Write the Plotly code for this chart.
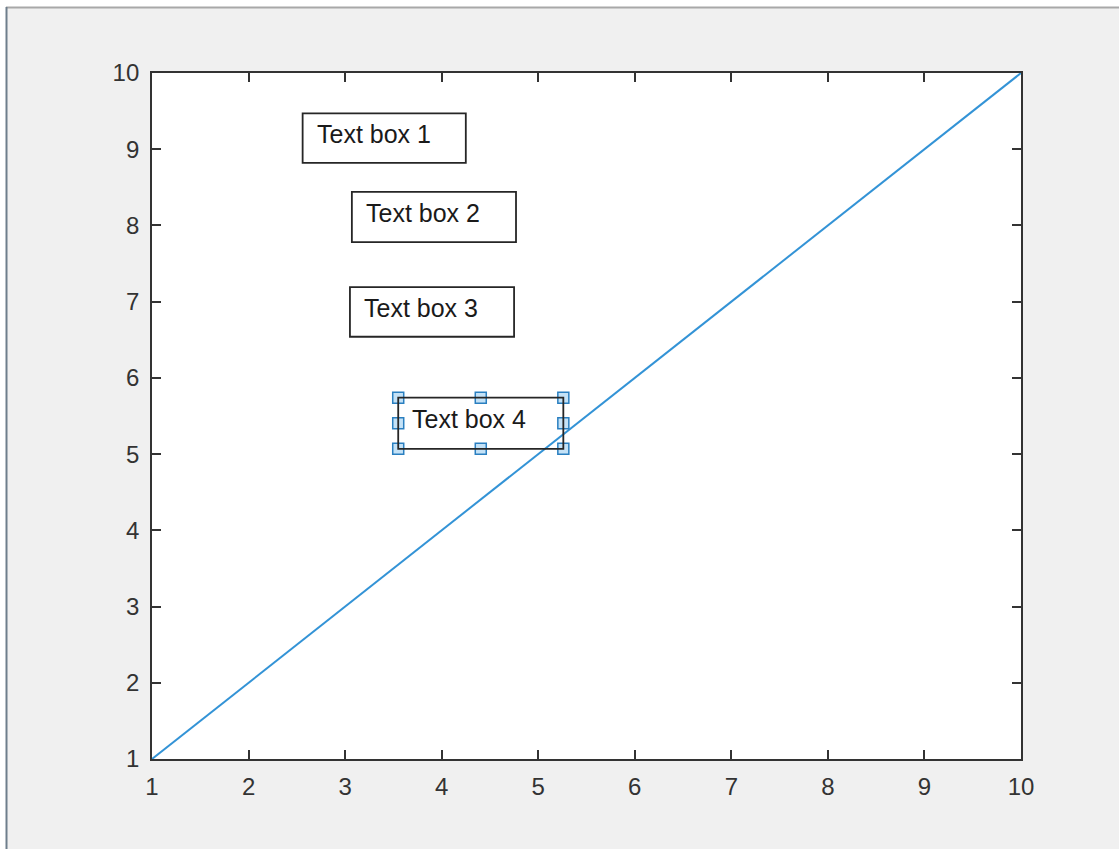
import plotly.graph_objects as go

# Data
line_x = [1, 2, 3, 4, 5, 6, 7, 8, 9, 10]
line_y = [1, 2, 3, 4, 5, 6, 7, 8, 9, 10]

box_labels = ["Text box 1", "Text box 2", "Text box 3", "Text box 4"]
box_x0 = [2.56, 3.07, 3.05, 3.55]
box_x1 = [4.25, 4.77, 4.75, 5.26]
box_y0 = [8.82, 7.78, 6.54, 5.07]
box_y1 = [9.47, 8.44, 7.19, 5.74]
selected_box = 3

tick_vals = [1, 2, 3, 4, 5, 6, 7, 8, 9, 10]
tick_text = [str(v) for v in tick_vals]

W, H = 1119, 849
L, R, T, B = 152, 1021, 73, 759


def px(x):
    return (x - L) / (R - L)


def py(y):
    return (B - y) / (B - T)


fig = go.Figure()
fig.add_trace(go.Scatter(x=line_x, y=line_y, mode="lines",
                         line=dict(color="#3393d6", width=2),
                         showlegend=False, hoverinfo="skip"))

shapes = []
annotations = []
for lab, x0, x1, y0, y1 in zip(box_labels, box_x0, box_x1, box_y0, box_y1):
    shapes.append(dict(type="rect", xref="x", yref="y", x0=x0, x1=x1, y0=y0, y1=y1,
                       line=dict(color="#262626", width=1.8), fillcolor="rgba(0,0,0,0)",
                       layer="above"))
    annotations.append(dict(x=x0, y=y1, xref="x", yref="y", text=lab, showarrow=False,
                            xanchor="left", yanchor="middle", xshift=12, yshift=-21,
                            font=dict(family="Liberation Sans, Arial", size=25, color="#1a1a1a")))

# selection handles on selected box
sx0, sx1 = box_x0[selected_box], box_x1[selected_box]
sy0, sy1 = box_y0[selected_box], box_y1[selected_box]
sxm, sym = (sx0 + sx1) / 2, (sy0 + sy1) / 2
hx = [sx0, sxm, sx1, sx0, sx1, sx0, sxm, sx1]
hy = [sy1, sy1, sy1, sym, sym, sy0, sy0, sy0]
fig.add_trace(go.Scatter(x=hx, y=hy, mode="markers",
                         marker=dict(symbol="square", size=11, color="#c4e2f7",
                                     line=dict(color="#2a7fc0", width=1.5)),
                         showlegend=False, hoverinfo="skip", cliponaxis=False))

# window frame: white strips at top/left, border lines
shapes += [
    dict(type="rect", xref="paper", yref="paper", x0=px(-5), x1=px(W + 5), y0=py(7), y1=py(-5),
         fillcolor="white", line=dict(width=0), layer="below"),
    dict(type="rect", xref="paper", yref="paper", x0=px(-5), x1=px(6), y0=py(H + 5), y1=py(-5),
         fillcolor="white", line=dict(width=0), layer="below"),
    dict(type="line", xref="paper", yref="paper", x0=px(6), x1=px(W + 5), y0=py(7.5), y1=py(7.5),
         line=dict(color="#a8a8a8", width=2), layer="below"),
    dict(type="line", xref="paper", yref="paper", x0=px(6.5), x1=px(6.5), y0=py(7), y1=py(H + 5),
         line=dict(color="#6e7e8c", width=2), layer="below"),
]

axis_common = dict(range=[1, 10], tickvals=tick_vals, ticktext=tick_text,
                   ticks="inside", ticklen=9, tickwidth=1.5, tickcolor="#333333",
                   showline=True, linecolor="#333333", linewidth=1.8, mirror="ticks",
                   showgrid=False, zeroline=False,
                   tickfont=dict(family="Liberation Sans, Arial", size=24, color="#333333"))

fig.update_layout(
    width=W, height=H,
    margin=dict(l=L, r=W - R, t=T, b=H - B, pad=0),
    paper_bgcolor="#f0f0f0", plot_bgcolor="white",
    xaxis=dict(**axis_common, ticklabelstandoff=5),
    yaxis=dict(**axis_common, ticklabelstandoff=6),
    shapes=shapes, annotations=annotations,
    showlegend=False,
)

fig.write_html("out.html", config={"displayModeBar": False},
               post_script="document.body.style.margin='0px';")
